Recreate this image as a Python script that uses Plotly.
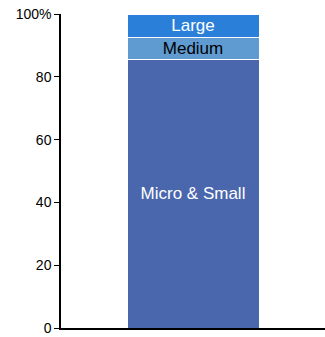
import plotly.graph_objects as go

categories = ["Firms"]
segments = ["Micro & Small", "Medium", "Large"]
values = [85.4, 7.2, 7.4]
colors = ["#4a66ad", "#5f9bd1", "#2a7fd9"]
text_colors = ["white", "black", "white"]
tick_vals = [0, 20, 40, 60, 80, 100]
tick_text = ["0", "20", "40", "60", "80", "100%"]

fig = go.Figure()
for name, v, c, tc in zip(segments, values, colors, text_colors):
    fig.add_trace(go.Bar(
        x=categories, y=[v], name=name,
        marker=dict(color=c, line=dict(color="white", width=1)),
        text=[name], textposition="inside", insidetextanchor="middle",
        constraintext="none",
        textfont=dict(color=tc, size=17, family="Liberation Sans"),
        width=0.5,
    ))

fig.update_layout(
    barmode="stack",
    width=325, height=337,
    margin=dict(l=61, r=0, t=14, b=9),
    plot_bgcolor="white", paper_bgcolor="white",
    showlegend=False,
    font=dict(family="Liberation Sans", size=14, color="black"),
)
fig.update_yaxes(
    range=[0, 100], tickvals=tick_vals, ticktext=tick_text,
    showline=True, linecolor="black", linewidth=1.5,
    ticks="outside", ticklen=5, tickcolor="black",
    showgrid=False, zeroline=False,
)
fig.update_xaxes(
    showline=True, linecolor="black", linewidth=1.5,
    showticklabels=False, ticks="", showgrid=False,
    range=[-0.5, 0.5],
)
fig.write_html("out.html")
